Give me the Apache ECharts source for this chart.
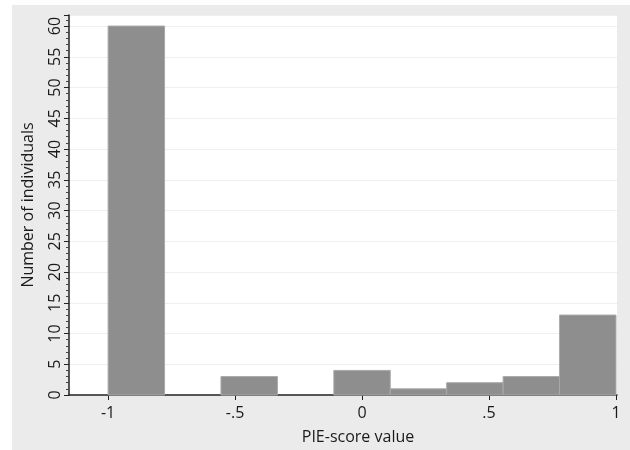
<!DOCTYPE html>
<html><head><meta charset="utf-8">
<script src="https://cdn.jsdelivr.net/npm/echarts@6/dist/echarts.min.js"></script>
<style>html,body{margin:0;padding:0;background:#fff;}#c{width:630px;height:450px;}</style>
</head><body><div id="c"></div>
<script>
// Histogram bins (PIE-score value), width 2/9
const binStart = [-1, -0.7778, -0.5556, -0.3333, -0.1111, 0.1111, 0.3333, 0.5556, 0.7778];
const binEnd   = [-0.7778, -0.5556, -0.3333, -0.1111, 0.1111, 0.3333, 0.5556, 0.7778, 1];
const counts   = [60, 0, 3, 0, 4, 1, 2, 3, 13];
const xTicks = [-1, -0.5, 0, 0.5, 1];
const xTickLabels = ['-1', '-.5', '0', '.5', '1'];

const data = binStart.map((s, i) => [s, binEnd[i], counts[i]]);
const chart = echarts.init(document.getElementById('c'));
const font = 'Open Sans';
chart.setOption({
  backgroundColor: '#ffffff',
  animation: false,
  graphic: [{type: 'rect', shape: {x: 12, y: 5, width: 618, height: 445}, style: {fill: '#ebebeb'}, z: -10, silent: true}],
  grid: {left: 69, right: 13, top: 15, bottom: 54, show: true, backgroundColor: '#ffffff', borderWidth: 0},
  xAxis: {
    type: 'value', min: -1.154, max: 1.004,
    axisLine: {show: true, onZero: false, lineStyle: {color: '#222', width: 1.5}},
    axisTick: {show: true, length: 5, customValues: xTicks, lineStyle: {color: '#222'}},
    axisLabel: {customValues: xTicks, formatter: v => { const i = xTicks.findIndex(t => Math.abs(t - v) < 1e-6); return i >= 0 ? xTickLabels[i] : ''; },
      color: '#1a1a1a', fontFamily: font, fontSize: 16, margin: 10},
    splitLine: {show: false},
    name: 'PIE-score value', nameLocation: 'middle', nameGap: 34,
    nameTextStyle: {color: '#1a1a1a', fontFamily: font, fontSize: 16, padding: [0, 0, 0, 30]}
  },
  yAxis: {
    type: 'value', min: 0, max: 61.8, interval: 5,
    axisLine: {show: true, onZero: false, lineStyle: {color: '#222', width: 1.5}},
    axisTick: {show: true, length: 5, lineStyle: {color: '#222'}},
    minorTick: {show: true, splitNumber: 5, length: 3, lineStyle: {color: '#444'}},
    axisLabel: {rotate: 90, color: '#1a1a1a', fontFamily: font, fontSize: 16, margin: 6, showMaxLabel: false},
    splitLine: {show: true, lineStyle: {color: '#efefef', width: 1.2}},
    name: 'Number of individuals', nameLocation: 'middle', nameGap: 33,
    nameTextStyle: {color: '#1a1a1a', fontFamily: font, fontSize: 16}
  },
  series: [{
    type: 'custom',
    data: data,
    encode: {x: [0, 1], y: 2},
    renderItem: function (params, api) {
      const p0 = api.coord([api.value(0), api.value(2)]);
      const p1 = api.coord([api.value(1), 0]);
      if (api.value(2) <= 0) return null;
      return {type: 'rect', shape: {x: p0[0], y: p0[1], width: p1[0] - p0[0], height: p1[1] - p0[1]},
        style: {fill: '#8e8e8e', stroke: '#a9a9a9', lineWidth: 1}};
    }
  }]
});
</script></body></html>
